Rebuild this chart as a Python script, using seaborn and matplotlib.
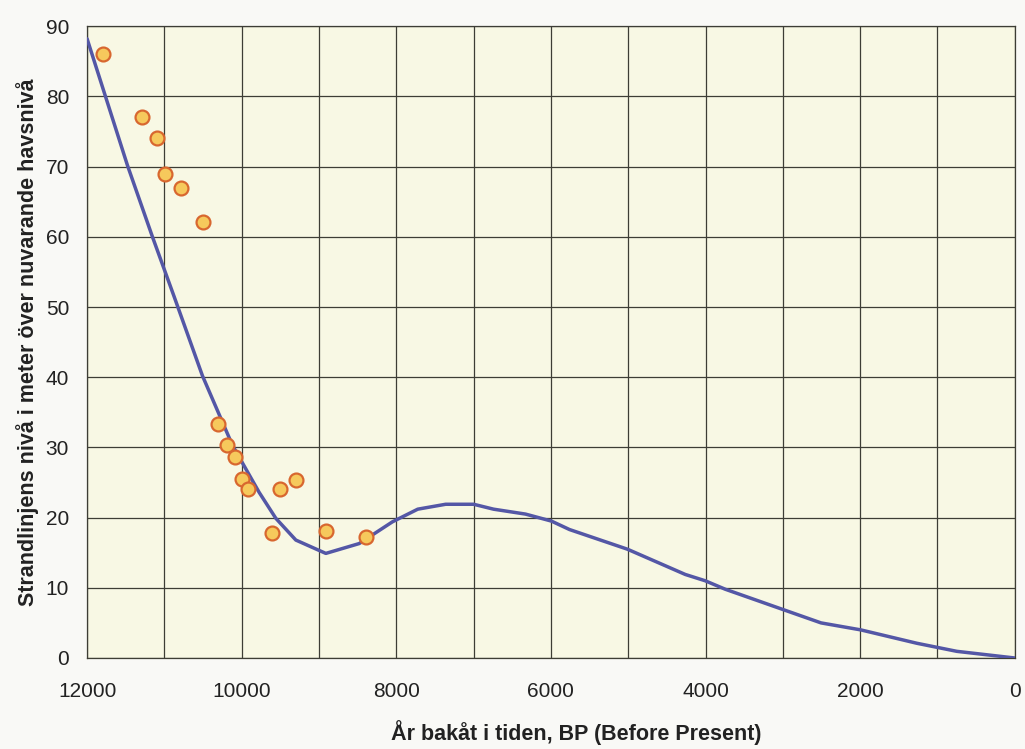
import matplotlib
matplotlib.use("Agg")
import matplotlib.pyplot as plt
import seaborn as sns
import pandas as pd
from matplotlib.ticker import MultipleLocator

# Shoreline curve (years BP, metres above present sea level)
curve_years = [12000, 11479, 11155, 10875, 10508, 10120, 9775, 9559, 9300, 8912,
               8481, 8050, 7723, 7362, 7000, 6742, 6329, 5993, 5760, 5011,
               4262, 4004, 3746, 2997, 2506, 1990, 1267, 750, 0]
curve_level = [88.2, 70.2, 60.0, 51.5, 40.2, 30.3, 23.6, 19.9, 16.8, 14.9,
               16.3, 19.4, 21.2, 21.9, 21.9, 21.2, 20.5, 19.5, 18.3, 15.5,
               11.9, 11.0, 9.8, 6.9, 5.0, 4.0, 2.1, 0.95, 0.0]

# Dated observations
obs_years = [11790, 11293, 11099, 10991, 10780, 10503, 10301, 10193, 10090, 9999,
             9921, 9611, 9507, 9300, 8912, 8391]
obs_level = [86.1, 77.0, 74.1, 69.0, 67.0, 62.1, 33.4, 30.3, 28.6, 25.5,
             24.1, 17.8, 24.1, 25.4, 18.1, 17.2]

x_ticks = [12000, 10000, 8000, 6000, 4000, 2000, 0]
y_ticks = [0, 10, 20, 30, 40, 50, 60, 70, 80, 90]

xlabel = "År bakåt i tiden, BP (Before Present)"
ylabel = "Strandlinjens nivå i meter över nuvarande havsnivå"

sns.set_theme(style="white")
plt.rcParams['font.family'] = ['Liberation Sans', 'DejaVu Sans']

fig = plt.figure(figsize=(10.25, 7.49), dpi=100, facecolor="#f9f9f6")
ax = fig.add_axes([0.085, 0.1215, 0.905, 0.8435])
ax.set_facecolor("#f8f8e4")

curve = pd.DataFrame({"year": curve_years, "level": curve_level})
obs = pd.DataFrame({"year": obs_years, "level": obs_level})

sns.lineplot(data=curve, x="year", y="level", ax=ax, color="#5457a6",
             linewidth=2.5, sort=False, zorder=3)
sns.scatterplot(data=obs, x="year", y="level", ax=ax, s=100,
                color="#f6c95c", edgecolor="#d8672f", linewidth=1.6, zorder=4)

ax.set_xlim(12000, 0)
ax.set_ylim(0, 90)
ax.set_xticks(x_ticks)
ax.xaxis.set_minor_locator(MultipleLocator(1000))
ax.set_yticks(y_ticks)
ax.grid(True, which="both", color="#3d3d35", linewidth=0.9)
ax.set_axisbelow(True)
for s in ax.spines.values():
    s.set_color("#3d3d35")
    s.set_linewidth(0.9)

ax.tick_params(axis="both", which="major", direction="out", length=5, width=0.9,
               color="#3d3d35", labelsize=15, labelcolor="#222222")
ax.tick_params(axis="y", which="major", pad=8)
ax.tick_params(axis="x", which="minor", length=0)
ax.tick_params(axis="x", which="major", pad=12)

ax.set_xlabel(xlabel, fontsize=15.5, fontweight="bold", color="#222222", labelpad=14)
ax.xaxis.label.set_x(0.527)
ax.set_ylabel(ylabel, fontsize=15.5, fontweight="bold", color="#222222", labelpad=5)

fig.savefig("out.png", dpi=100, facecolor=fig.get_facecolor())
